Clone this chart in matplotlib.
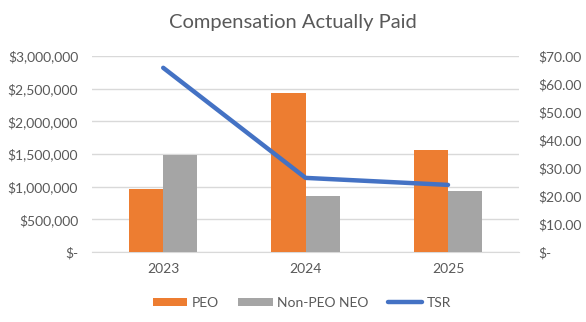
import matplotlib.pyplot as plt
import numpy as np
from matplotlib.ticker import FuncFormatter

years = ['2023', '2024', '2025']
peo = [965000, 2440000, 1560000]
non_peo = [1485000, 857000, 934000]
tsr = [65.8, 26.5, 24.0]

ORANGE = '#ED7D31'
GRAY = '#A5A5A5'
BLUE = '#4472C4'
TXT = '#595959'

plt.rcParams['font.family'] = ['Lato', 'DejaVu Sans']

fig = plt.figure(figsize=(5.86, 3.22), dpi=100)
ax = fig.add_axes([0.157, 0.217, 0.729, 0.609])
ax2 = ax.twinx()

x = np.arange(len(years))
w = 0.24
b1 = ax.bar(x - w / 2, peo, w, color=ORANGE, label='PEO', zorder=3)
b2 = ax.bar(x + w / 2, non_peo, w, color=GRAY, label='Non-PEO NEO', zorder=3)
ln, = ax2.plot(x, tsr, color=BLUE, lw=3.2, solid_capstyle='round', label='TSR')

ax.set_xlim(-0.5, 2.5)
ax.set_ylim(0, 3000000)
ax2.set_ylim(0, 70)
ax.set_yticks(np.arange(0, 3000001, 500000))
ax2.set_yticks(np.arange(0, 71, 10))


def left_fmt(v, pos):
    return '$-' if v == 0 else '${:,.0f}'.format(v)


def right_fmt(v, pos):
    return '$-' if v == 0 else '${:,.2f}'.format(v)


ax.yaxis.set_major_formatter(FuncFormatter(left_fmt))
ax2.yaxis.set_major_formatter(FuncFormatter(right_fmt))
ax.set_xticks(x)
ax.set_xticklabels(years)

ax.grid(axis='y', color='#D9D9D9', lw=1, zorder=0)
ax.set_axisbelow(True)
for a in (ax, ax2):
    for s in a.spines.values():
        s.set_visible(False)
    a.tick_params(length=0, labelsize=10, colors=TXT)
ax.spines['bottom'].set_visible(True)
ax.spines['bottom'].set_color('#D9D9D9')
ax.tick_params(axis='x', pad=8)
ax.tick_params(axis='y', pad=10)
ax2.tick_params(axis='y', pad=14)

fig.suptitle('Compensation Actually Paid', x=0.5, y=0.955, fontsize=14.5, color=TXT)

fig.legend(handles=[b1, b2, ln], loc='center', bbox_to_anchor=(0.515, 0.06), ncol=3,
           frameon=False, fontsize=10, labelcolor=TXT, handlelength=2.5,
           handleheight=0.5, columnspacing=1.4, handletextpad=0.3)

fig.savefig('out.png', dpi=100)
